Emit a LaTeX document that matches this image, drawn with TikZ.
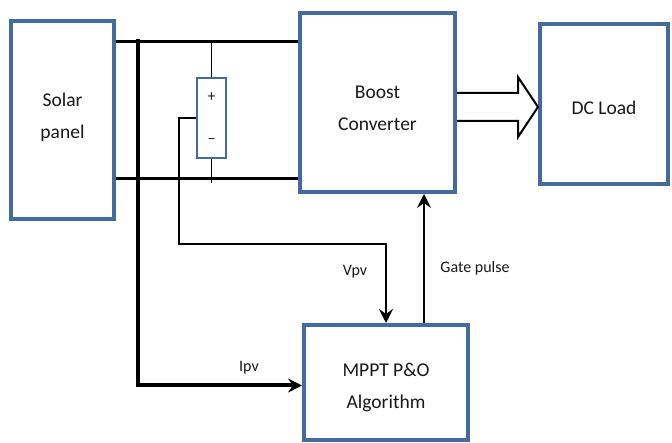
\documentclass[tikz,border=0pt]{standalone}
\usepackage{fontspec}
\setmainfont{Carlito}
\usepackage{tikz}
\usetikzlibrary{
	positioning,
	arrows.meta,
	calc
}

\definecolor{boxblue}{RGB}{68,106,160}
\definecolor{inkgray}{RGB}{25,25,25}

\tikzset{
	block/.style={draw=boxblue,line width=4pt,inner sep=0pt},
	blocktext/.style={align=center,font=\fontsize{19.5}{32}\selectfont,text=inkgray},
	sensorbox/.style={draw=boxblue,line width=2.5pt,align=center,inner sep=0pt,
		font=\fontsize{16}{42}\selectfont,text=inkgray},
	lbl/.style={font=\fontsize{16}{18}\selectfont,text=inkgray},
	bus/.style={line width=3pt},
	lead/.style={line width=1.5pt},
	sig/.style={line width=2.5pt,-{Stealth[length=14pt,width=14pt,inset=5pt]}},
	hollow/.style={line width=2pt,line join=miter}
}

\begin{document}
\begin{tikzpicture}[x=1pt,y=-1pt]
	
	\useasboundingbox[fill=white] (0,0) rectangle (672,443);
	
	\node[block,minimum width=103pt,minimum height=198pt] (solar) at (62.5,120) {};
	\node[block,minimum width=155pt,minimum height=179pt] (boost) at (377.5,102.5) {};
	\node[block,minimum width=128pt,minimum height=160pt] (load) at (604,104) {};
	\node[block,minimum width=164pt,minimum height=115pt] (mppt) at (386,382.5) {};
	\node[sensorbox,minimum width=29pt,minimum height=80pt] (sensor) at (211.5,118) {+\\–};
	
	\node[blocktext] (solartxt) at ([yshift=3pt]solar.center) {Solar\\panel};
	\node[blocktext] (boosttxt) at ([yshift=-6pt]boost.center) {Boost\\Converter};
	\node[blocktext] (loadtxt) at ([yshift=-4pt]load.center) {DC Load};
	\node[blocktext] (mppttxt) at ([yshift=-5pt]mppt.center) {MPPT P\&O\\Algorithm};
	
	\coordinate (ptop) at (0,42);
	\coordinate (pbot) at (0,179);
	\coordinate (itap) at (138,39);
	\coordinate (vbend) at (179,244);
	\coordinate (arr) at (0,107);
	
	% power wires
	\draw[bus] (solar.east |- ptop) -- (boost.west |- ptop);
	\draw[bus] (solar.east |- pbot) -- (boost.west |- pbot);
	\draw[lead] (sensor.north) -- (sensor.north |- ptop);
	\draw[lead] (sensor.south) -- ($(sensor.south |- pbot)+(0,4)$);
	
	% measured signals
	\draw[sig,line width=4pt] (itap) |- ($(mppt.west)+(0,3)$);
	\draw[sig] (sensor.west) -| (vbend) -| (mppt.north);
	\draw[sig,line width=2pt] ([xshift=38pt]mppt.north) -- ([xshift=38pt]mppt.north |- boost.south);
	
	\node[lbl] (ipv) at (249,368) {Ipv};
	\node[lbl] (vpv) at (355,272) {Vpv};
	\node[lbl] (gate) at (475,268) {Gate pulse};
	
	% output to the load
	\draw[hollow] ($(boost.east |- arr)+(0,-14)$) -- ($(load.west |- arr)+(-20,-14)$)
		-- ($(load.west |- arr)+(-20,-30)$) -- (load.west |- arr)
		-- ($(load.west |- arr)+(-20,30)$) -- ($(load.west |- arr)+(-20,14)$)
		-- ($(boost.east |- arr)+(0,14)$);
	
\end{tikzpicture}
\end{document}
